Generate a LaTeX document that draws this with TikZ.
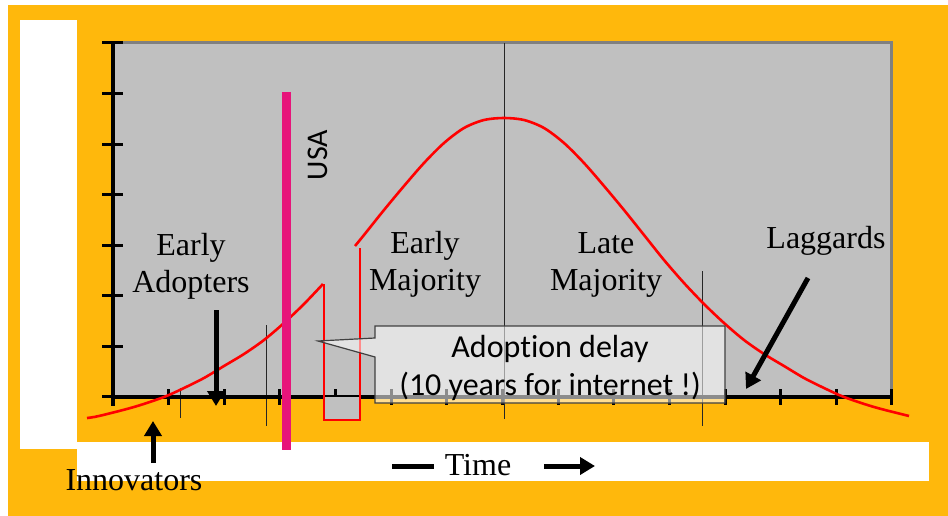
\documentclass[tikz,border=0pt]{standalone}
\usepackage{fontspec}
\setmainfont{Liberation Serif}
\newfontfamily\calfont[Ligatures=NoCommon]{Carlito}
\usetikzlibrary{arrows.meta}
\definecolor{slideorange}{RGB}{255,184,12}
\definecolor{plotgray}{RGB}{192,192,192}
\definecolor{usapink}{RGB}{231,20,122}

\begin{document}
\begin{tikzpicture}[
    x=1pt, y=-1pt,
    every node/.style={font=\fontsize{32}{37}\selectfont, inner sep=0pt, align=center},
    sanslabel/.style={font=\calfont\fontsize{32}{38}\selectfont},
    curve/.style={red, line width=2.6pt},
    bigarrow/.style={line width=5pt, -{Triangle[length=15pt,width=17pt]}},
    tickline/.style={line width=3pt},
    guide/.style={black!85, line width=1pt}
  ]
  \useasboundingbox (0,0) rectangle (948,516);
  \fill[white] (0,0) rectangle (948,516);
  \fill[slideorange] (8,5) rectangle (948,516);
  % white masks
  \fill[white] (20,20) rectangle (77,449);
  \fill[white] (77,442) rectangle (929,481);
  % plot area
  \fill[plotgray] (113,43) rectangle (892,397);
  \draw[gray, line width=3pt] (123,43) -- (891,43) -- (891,397);
  \draw[guide] (180,388) -- (180,418);
  \draw[guide] (266,325) -- (266,426);
  \draw[guide] (504,43) -- (504,419);
  \draw[guide] (702,271) -- (702,426);
  % axes
  \draw[line width=4pt] (113,43) -- (113,406);
  \draw[line width=4pt] (111,397) -- (892,397);
  \foreach \j in {0,...,7}
    \draw[tickline] (102,{43+50.57*\j}) -- (123,{43+50.57*\j});
  \foreach \i in {1,...,14}
    \draw[tickline] ({113+55.64*\i},389) -- ({113+55.64*\i},405);
  % adoption curve
  \draw[curve] plot[smooth, tension=0.5] coordinates {(87,418) (99,416) (134,407)
    (164,397) (184,388) (204,378) (224,366) (244,354) (264,340) (284,323)
    (304,304) (323,284)};
  \draw[curve] plot[smooth, tension=0.5] coordinates {(355,246) (364,235) (384,210)
    (404,186) (424,163) (444,143) (464,128) (484,120) (504,118) (524,120) (544,128)
    (564,143) (584,163) (604,186) (624,210) (644,235) (664,260) (684,283) (704,304)
    (724,323) (744,340) (764,354) (784,366) (804,378) (824,388) (844,397) (874,407)
    (909,416)};
  \fill[plotgray] (324,397) rectangle (360,420);
  \draw[red, line width=1.3pt] (324,284) -- (324,420) -- (360,420) -- (360,248);
  % USA launch
  \draw[usapink, line width=9pt] (286,92) -- (286,450);
  \node[sanslabel, font=\calfont\fontsize{30}{36}\selectfont, rotate=90] (usa) at (318,155) {USA};
  % delay callout
  \draw[black!75, line width=1.2pt, fill=white, fill opacity=0.55]
    (375,326) -- (725,326) -- (725,403) -- (375,403) -- (375,357) -- (318,341) -- (375,338) -- cycle;
  \node[sanslabel, anchor=base] (delay) at (550,395) {Adoption delay\\(10 years for internet !)};
  % groups
  \node[anchor=base] (early-ad) at (191,292) {Early\\Adopters};
  \node[anchor=base] (early-maj) at (425,290) {Early\\Majority};
  \node[anchor=base] (late-maj) at (606,290) {Late\\Majority};
  \node[anchor=base] (lagg) at (826,248) {Laggards};
  \node[anchor=base] (innov) at (134,490) {Innovators};
  \node[anchor=base] (time) at (478,475) {Time};
  % pointers
  \coordinate (ea-from) at (216,310);
  \coordinate (ea-to) at (216,406);
  \coordinate (in-from) at (153,463);
  \coordinate (in-to) at (153,421);
  \coordinate (lg-from) at (808,278);
  \coordinate (lg-to) at (746,389);
  \coordinate (tm-bar-a) at (392,466);
  \coordinate (tm-bar-b) at (434,466);
  \coordinate (tm-from) at (544,466);
  \coordinate (tm-to) at (595,466);
  \draw[bigarrow] (ea-from) -- (ea-to);
  \draw[bigarrow] (in-from) -- (in-to);
  \draw[bigarrow] (lg-from) -- (lg-to);
  \draw[line width=5pt] (tm-bar-a) -- (tm-bar-b);
  \draw[bigarrow] (tm-from) -- (tm-to);
\end{tikzpicture}
\end{document}
